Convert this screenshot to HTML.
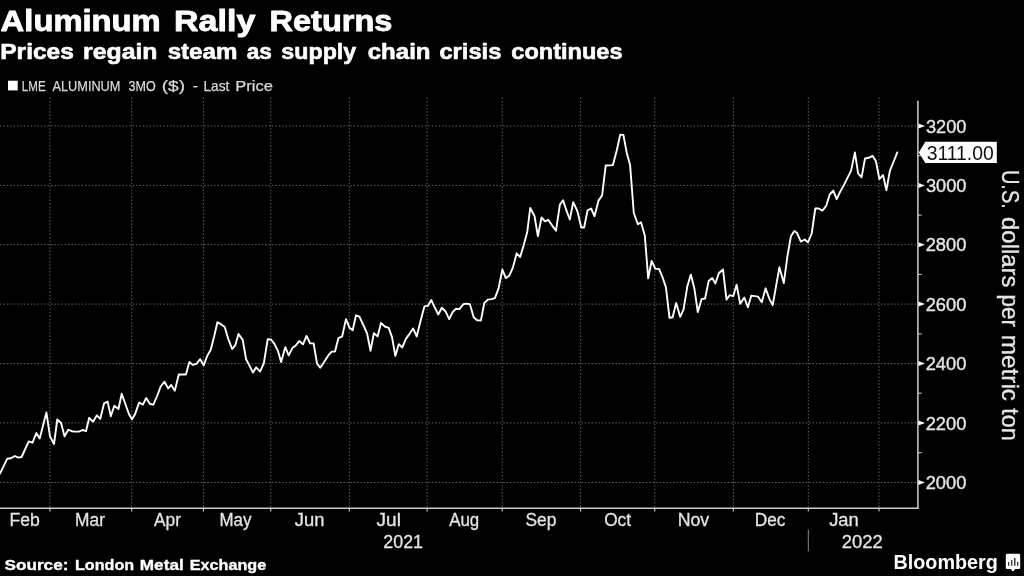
<!DOCTYPE html>
<html><head><meta charset="utf-8"><title>Aluminum Rally Returns</title>
<style>
html,body{margin:0;padding:0;background:#000;}
body{width:1024px;height:576px;overflow:hidden;font-family:"Liberation Sans",sans-serif;}
svg{display:block;font-family:"Liberation Sans",sans-serif;}
</style></head><body>
<svg width="1024" height="576" viewBox="0 0 1024 576" style="will-change:transform;opacity:0.9999">
<rect x="0" y="0" width="1024" height="576" fill="#000"/>

<g stroke="#626262" stroke-width="1" stroke-dasharray="1.5 1.9" fill="none">
<line x1="50" y1="97.6" x2="50" y2="507.5"/>
<line x1="131.7" y1="97.6" x2="131.7" y2="507.5"/>
<line x1="203.4" y1="97.6" x2="203.4" y2="507.5"/>
<line x1="270.8" y1="97.6" x2="270.8" y2="507.5"/>
<line x1="349.3" y1="97.6" x2="349.3" y2="507.5"/>
<line x1="427.1" y1="97.6" x2="427.1" y2="507.5"/>
<line x1="502.2" y1="97.6" x2="502.2" y2="507.5"/>
<line x1="580.6" y1="97.6" x2="580.6" y2="507.5"/>
<line x1="654.8" y1="97.6" x2="654.8" y2="507.5"/>
<line x1="733.3" y1="97.6" x2="733.3" y2="507.5"/>
<line x1="808.3" y1="97.6" x2="808.3" y2="507.5"/>
<line x1="879" y1="97.6" x2="879" y2="507.5"/>
<line x1="0" y1="125.9" x2="917" y2="125.9"/>
<line x1="0" y1="185.4" x2="917" y2="185.4"/>
<line x1="0" y1="244.7" x2="917" y2="244.7"/>
<line x1="0" y1="304.1" x2="917" y2="304.1"/>
<line x1="0" y1="363.6" x2="917" y2="363.6"/>
<line x1="0" y1="422.9" x2="917" y2="422.9"/>
<line x1="0" y1="482.5" x2="917" y2="482.5"/>
</g>
<g stroke="#d0d0d0" stroke-width="1.5" fill="none">
<line x1="917.9" y1="100.8" x2="917.9" y2="509"/>
<line x1="0" y1="508.3" x2="918.6" y2="508.3"/>
</g>
<g stroke="#d0d0d0" stroke-width="1.1">
<line x1="50" y1="508" x2="50" y2="511.6"/>
<line x1="131.7" y1="508" x2="131.7" y2="511.6"/>
<line x1="203.4" y1="508" x2="203.4" y2="511.6"/>
<line x1="270.8" y1="508" x2="270.8" y2="511.6"/>
<line x1="349.3" y1="508" x2="349.3" y2="511.6"/>
<line x1="427.1" y1="508" x2="427.1" y2="511.6"/>
<line x1="502.2" y1="508" x2="502.2" y2="511.6"/>
<line x1="580.6" y1="508" x2="580.6" y2="511.6"/>
<line x1="654.8" y1="508" x2="654.8" y2="511.6"/>
<line x1="733.3" y1="508" x2="733.3" y2="511.6"/>
<line x1="808.3" y1="508" x2="808.3" y2="511.6"/>
<line x1="879" y1="508" x2="879" y2="511.6"/>
</g>
<g fill="#ffffff">
<path d="M918.4 123.4 L925 125.9 L918.4 128.4 Z"/>
<path d="M918.4 182.9 L925 185.4 L918.4 187.9 Z"/>
<path d="M918.4 242.2 L925 244.7 L918.4 247.2 Z"/>
<path d="M918.4 301.6 L925 304.1 L918.4 306.6 Z"/>
<path d="M918.4 361.1 L925 363.6 L918.4 366.1 Z"/>
<path d="M918.4 420.4 L925 422.9 L918.4 425.4 Z"/>
<path d="M918.4 480.0 L925 482.5 L918.4 485.0 Z"/>
</g>
<g stroke="#d0d0d0" stroke-width="1">
<line x1="918" y1="155.7" x2="921.7" y2="155.7"/>
<line x1="918" y1="215.1" x2="921.7" y2="215.1"/>
<line x1="918" y1="274.4" x2="921.7" y2="274.4"/>
<line x1="918" y1="333.9" x2="921.7" y2="333.9"/>
<line x1="918" y1="393.2" x2="921.7" y2="393.2"/>
<line x1="918" y1="452.7" x2="921.7" y2="452.7"/>
</g>
<text x="925.92" y="132.6" font-size="19.2" fill="#e6e6e6" textLength="40.51" lengthAdjust="spacingAndGlyphs" stroke="#e6e6e6" stroke-width="0.4" stroke-linejoin="round">3200</text>
<text x="925.92" y="192.1" font-size="19.2" fill="#e6e6e6" textLength="40.51" lengthAdjust="spacingAndGlyphs" stroke="#e6e6e6" stroke-width="0.4" stroke-linejoin="round">3000</text>
<text x="925.68" y="251.4" font-size="19.2" fill="#e6e6e6" textLength="40.74" lengthAdjust="spacingAndGlyphs" stroke="#e6e6e6" stroke-width="0.4" stroke-linejoin="round">2800</text>
<text x="925.68" y="310.8" font-size="19.2" fill="#e6e6e6" textLength="40.74" lengthAdjust="spacingAndGlyphs" stroke="#e6e6e6" stroke-width="0.4" stroke-linejoin="round">2600</text>
<text x="925.68" y="370.3" font-size="19.2" fill="#e6e6e6" textLength="40.74" lengthAdjust="spacingAndGlyphs" stroke="#e6e6e6" stroke-width="0.4" stroke-linejoin="round">2400</text>
<text x="925.68" y="429.6" font-size="19.2" fill="#e6e6e6" textLength="40.74" lengthAdjust="spacingAndGlyphs" stroke="#e6e6e6" stroke-width="0.4" stroke-linejoin="round">2200</text>
<text x="925.68" y="489.2" font-size="19.2" fill="#e6e6e6" textLength="40.74" lengthAdjust="spacingAndGlyphs" stroke="#e6e6e6" stroke-width="0.4" stroke-linejoin="round">2000</text>
<text x="9.5" y="526.2" font-size="18.3" fill="#e6e6e6" textLength="30.37" lengthAdjust="spacingAndGlyphs" stroke="#e6e6e6" stroke-width="0.3" stroke-linejoin="round">Feb</text>
<text x="75.12" y="526.2" font-size="18.3" fill="#e6e6e6" textLength="29.89" lengthAdjust="spacingAndGlyphs" stroke="#e6e6e6" stroke-width="0.3" stroke-linejoin="round">Mar</text>
<text x="154.01" y="526.2" font-size="18.3" fill="#e6e6e6" textLength="26.92" lengthAdjust="spacingAndGlyphs" stroke="#e6e6e6" stroke-width="0.3" stroke-linejoin="round">Apr</text>
<text x="219.56" y="526.2" font-size="18.3" fill="#e6e6e6" textLength="31.92" lengthAdjust="spacingAndGlyphs" stroke="#e6e6e6" stroke-width="0.3" stroke-linejoin="round">May</text>
<text x="294.77" y="526.2" font-size="18.3" fill="#e6e6e6" textLength="29.67" lengthAdjust="spacingAndGlyphs" stroke="#e6e6e6" stroke-width="0.3" stroke-linejoin="round">Jun</text>
<text x="376.56" y="526.2" font-size="18.3" fill="#e6e6e6" textLength="24.39" lengthAdjust="spacingAndGlyphs" stroke="#e6e6e6" stroke-width="0.3" stroke-linejoin="round">Jul</text>
<text x="449.21" y="526.2" font-size="18.3" fill="#e6e6e6" textLength="30.03" lengthAdjust="spacingAndGlyphs" stroke="#e6e6e6" stroke-width="0.3" stroke-linejoin="round">Aug</text>
<text x="525.47" y="526.2" font-size="18.3" fill="#e6e6e6" textLength="30.91" lengthAdjust="spacingAndGlyphs" stroke="#e6e6e6" stroke-width="0.3" stroke-linejoin="round">Sep</text>
<text x="604.13" y="526.2" font-size="18.3" fill="#e6e6e6" textLength="26.86" lengthAdjust="spacingAndGlyphs" stroke="#e6e6e6" stroke-width="0.3" stroke-linejoin="round">Oct</text>
<text x="677.69" y="526.2" font-size="18.3" fill="#e6e6e6" textLength="31.52" lengthAdjust="spacingAndGlyphs" stroke="#e6e6e6" stroke-width="0.3" stroke-linejoin="round">Nov</text>
<text x="754.73" y="526.2" font-size="18.3" fill="#e6e6e6" textLength="30.61" lengthAdjust="spacingAndGlyphs" stroke="#e6e6e6" stroke-width="0.3" stroke-linejoin="round">Dec</text>
<text x="829.17" y="526.2" font-size="18.3" fill="#e6e6e6" textLength="29.67" lengthAdjust="spacingAndGlyphs" stroke="#e6e6e6" stroke-width="0.3" stroke-linejoin="round">Jan</text>
<text x="383.36" y="547.7" font-size="18.6" fill="#e6e6e6" textLength="39.68" lengthAdjust="spacingAndGlyphs" stroke="#e6e6e6" stroke-width="0.3" stroke-linejoin="round">2021</text>
<text x="841.73" y="547.7" font-size="18.6" fill="#e6e6e6" textLength="41.09" lengthAdjust="spacingAndGlyphs" stroke="#e6e6e6" stroke-width="0.3" stroke-linejoin="round">2022</text>
<line x1="808.3" y1="529.5" x2="808.3" y2="551.4" stroke="#8c8c8c" stroke-width="1"/>
<polyline points="0,473.6 7.3,458.7 10.9,458.3 14.9,456 18.2,457.6 21.6,457 28.7,441.5 32.5,442.7 36.3,433.1 39.7,438.5 46.4,412.5 50,436.4 54,444 57.3,419.5 61.1,423 64.6,436.4 68.2,429.7 71.8,431.2 75.5,431.6 78.9,431.6 82.5,430 86,431.2 89.2,417.8 93,421.7 96.9,415.3 100.3,418.8 104.1,403.3 107.6,401.6 110.8,416.3 114.3,405.8 118.5,409 121.7,393.8 125.2,403.5 129,414.2 132,419.3 134.9,414.6 139.1,402.5 142.9,404.6 146.2,398 150,404 153.4,404.6 157.3,395.5 160.7,386.5 164.5,381.7 168.1,388.4 171.2,385 174.8,390.7 178.8,374.5 185.9,374.5 189.4,362 193,364.9 196.4,363.9 200.2,359.2 203.7,365.3 207.3,355.7 210.8,349.6 214.2,336.2 217.4,322.3 220.9,324.2 224.7,327 228.3,339.1 232.2,349 235.2,345.4 238.5,334 242.7,339.9 246.1,359.2 249.6,365.9 253,372.6 256.2,367.3 260.1,371.6 263.9,363 267.7,339.2 271,339.5 274.4,343.9 277.8,350.6 281.1,362.1 285.3,347.2 288.7,355.4 292.5,347.8 295.4,345.9 299.2,341.1 303,344.3 306.5,335.9 310.1,343.4 313.6,343.4 317,363.4 320.2,367.8 324.1,362.1 328.3,355.4 331.7,351.6 335,351.6 338.4,338.2 342.2,336.3 346,319.1 349.5,327.7 352.7,330.2 356,315.3 359.4,316.6 363.5,325.3 367.1,333.5 370.5,350.8 373.9,333.2 377.6,336.4 381,323 384.8,326.5 388.7,327.8 392.1,337.4 395.3,355.9 398.8,344.1 402.2,347.5 405.9,338.9 409.7,333.6 413.1,328.4 416.7,336.4 420.6,320.8 424.4,306.4 427.8,305.9 431.3,300.1 434.5,306.8 438.3,314.5 441.8,307.8 445.4,311.2 449.2,319.2 452.7,312 456.1,308.7 459.4,309.1 463.2,304.3 466.4,303.6 469.9,304.3 473.7,317.3 477.1,320.2 480.9,320.6 484.2,303.2 487.8,299.6 491.5,299.1 494.9,298.2 498.5,288.6 502.4,269.5 505.8,278.1 509.2,275.8 512.9,267.6 516.7,253.3 520.1,257.1 523.6,245.6 527.2,232.3 530.2,208 534.5,216 537.9,236.1 541.5,217.5 545,221.4 548.2,219.8 552.2,225.6 556,230.7 559.9,204.6 563.1,200.2 566.5,210.7 569.8,219.5 573.2,202.1 577.4,211.2 581.3,227.5 584.1,227.5 587.6,210.3 591.1,208.5 594.5,216.2 598.5,200.6 602.1,195.4 605.7,165.5 612.9,165.1 616.7,150.8 620.2,134.6 623.4,134.9 626.7,152.7 630.1,165.1 633.8,213 637.9,224.3 641,222.3 644.8,235.4 648.2,278.4 651.6,260.9 655.4,268.9 659,268.9 662.5,277.1 665.9,287.2 669.5,317.8 672.6,317.2 676.2,302.9 680.2,316.8 683.5,309.6 687.3,286.6 690.8,274.6 694.4,288.6 697.8,312.1 701.6,299.1 705.1,298.5 708.7,280.9 712.2,278 715.4,283.4 718.8,273.3 723,269.5 726.5,299.6 729.7,295.2 733.2,296.2 736.6,284.7 740.2,303.8 744.3,297.5 747.9,307.2 751.3,295.6 758,296.6 761.8,302.2 765.6,288.3 769.5,299.3 772.7,305.1 779.4,267.3 783.8,283.1 787.4,256.4 790.9,236.3 794.3,231 797,232.9 800.8,241.6 804.8,239.5 808,242.4 811.7,233.5 815.3,208.5 818.6,208.5 822.4,210.6 826.2,205.8 829.7,194.5 833.3,190.6 836.7,199.2 840.2,191.6 844,184.9 847.6,177.6 851.1,170.6 854.9,152.4 858.1,173.4 861.6,177.3 865,158.5 868.7,157.8 872.5,155.9 875.9,161 879.4,179.2 883,175 886.4,190.2 889.9,170.6 893.5,162 897.3,152.4" fill="none" stroke="#fff" stroke-width="1.9" stroke-linejoin="round" stroke-linecap="round"/>
<path d="M918.8 152.4 L925.3 141.7 L996.8 141.7 L996.8 162.9 L925.3 162.9 Z" fill="#fff"/>
<text x="926.67" y="159.5" font-size="19.4" fill="#111" textLength="67.08" lengthAdjust="spacingAndGlyphs">3111.00</text>
<text transform="translate(1002.1 171.5) rotate(90)" x="-1.55" y="0" font-size="24.5" fill="#e6e6e6" stroke="#e6e6e6" stroke-width="0.35" textLength="38.84" lengthAdjust="spacingAndGlyphs">U.S.</text>
<text transform="translate(1002.1 218.1) rotate(90)" x="-1.01" y="0" font-size="24.5" fill="#e6e6e6" stroke="#e6e6e6" stroke-width="0.35" textLength="70.27" lengthAdjust="spacingAndGlyphs">dollars</text>
<text transform="translate(1002.1 296) rotate(90)" x="-1.46" y="0" font-size="24.5" fill="#e6e6e6" stroke="#e6e6e6" stroke-width="0.35" textLength="32.4" lengthAdjust="spacingAndGlyphs">per</text>
<text transform="translate(1002.1 336.5) rotate(90)" x="-1.64" y="0" font-size="24.5" fill="#e6e6e6" stroke="#e6e6e6" stroke-width="0.35" textLength="66.1" lengthAdjust="spacingAndGlyphs">metric</text>
<text transform="translate(1002.1 408.6) rotate(90)" x="-0.35" y="0" font-size="24.5" fill="#e6e6e6" stroke="#e6e6e6" stroke-width="0.35" textLength="32.41" lengthAdjust="spacingAndGlyphs">ton</text>
<text x="0.63" y="31.3" font-size="30.3" font-weight="bold" fill="#fff" textLength="160.13" lengthAdjust="spacingAndGlyphs" stroke="#fff" stroke-width="0.9" stroke-linejoin="round">Aluminum</text>
<text x="174.05" y="31.3" font-size="30.3" font-weight="bold" fill="#fff" textLength="81.27" lengthAdjust="spacingAndGlyphs" stroke="#fff" stroke-width="0.9" stroke-linejoin="round">Rally</text>
<text x="269.56" y="31.3" font-size="30.3" font-weight="bold" fill="#fff" textLength="122.82" lengthAdjust="spacingAndGlyphs" stroke="#fff" stroke-width="0.9" stroke-linejoin="round">Returns</text>
<text x="0.24" y="58.7" font-size="21.3" font-weight="bold" fill="#fff" textLength="73.64" lengthAdjust="spacingAndGlyphs" stroke="#fff" stroke-width="0.6" stroke-linejoin="round">Prices</text>
<text x="83.09" y="58.7" font-size="21.3" font-weight="bold" fill="#fff" textLength="74.43" lengthAdjust="spacingAndGlyphs" stroke="#fff" stroke-width="0.6" stroke-linejoin="round">regain</text>
<text x="167.66" y="58.7" font-size="21.3" font-weight="bold" fill="#fff" textLength="69.71" lengthAdjust="spacingAndGlyphs" stroke="#fff" stroke-width="0.6" stroke-linejoin="round">steam</text>
<text x="246.82" y="58.7" font-size="21.3" font-weight="bold" fill="#fff" textLength="25.13" lengthAdjust="spacingAndGlyphs" stroke="#fff" stroke-width="0.6" stroke-linejoin="round">as</text>
<text x="281.39" y="58.7" font-size="21.3" font-weight="bold" fill="#fff" textLength="74.84" lengthAdjust="spacingAndGlyphs" stroke="#fff" stroke-width="0.6" stroke-linejoin="round">supply</text>
<text x="367.74" y="58.7" font-size="21.3" font-weight="bold" fill="#fff" textLength="62.75" lengthAdjust="spacingAndGlyphs" stroke="#fff" stroke-width="0.6" stroke-linejoin="round">chain</text>
<text x="439.45" y="58.7" font-size="21.3" font-weight="bold" fill="#fff" textLength="61.92" lengthAdjust="spacingAndGlyphs" stroke="#fff" stroke-width="0.6" stroke-linejoin="round">crisis</text>
<text x="511.36" y="58.7" font-size="21.3" font-weight="bold" fill="#fff" textLength="111.19" lengthAdjust="spacingAndGlyphs" stroke="#fff" stroke-width="0.6" stroke-linejoin="round">continues</text>
<rect x="8" y="80.7" width="9.7" height="9.7" fill="#fff"/>
<text x="21.87" y="91.1" font-size="14.6" fill="#dadada" textLength="23.78" lengthAdjust="spacingAndGlyphs" stroke="#dadada" stroke-width="0.25" stroke-linejoin="round">LME</text>
<text x="52.49" y="91.1" font-size="14.6" fill="#dadada" textLength="67.95" lengthAdjust="spacingAndGlyphs" stroke="#dadada" stroke-width="0.25" stroke-linejoin="round">ALUMINUM</text>
<text x="128.56" y="91.1" font-size="14.6" fill="#dadada" textLength="27.11" lengthAdjust="spacingAndGlyphs" stroke="#dadada" stroke-width="0.25" stroke-linejoin="round">3MO</text>
<text x="161.73" y="91.1" font-size="14.6" fill="#dadada" textLength="23.39" lengthAdjust="spacingAndGlyphs" stroke="#dadada" stroke-width="0.25" stroke-linejoin="round">($)</text>
<text x="192.84" y="91.1" font-size="14.6" fill="#dadada" textLength="5.1" lengthAdjust="spacingAndGlyphs" stroke="#dadada" stroke-width="0.25" stroke-linejoin="round">-</text>
<text x="203.5" y="91.1" font-size="14.6" fill="#dadada" textLength="25.89" lengthAdjust="spacingAndGlyphs" stroke="#dadada" stroke-width="0.25" stroke-linejoin="round">Last</text>
<text x="235.26" y="91.1" font-size="14.6" fill="#dadada" textLength="37.73" lengthAdjust="spacingAndGlyphs" stroke="#dadada" stroke-width="0.25" stroke-linejoin="round">Price</text>
<text x="4.46" y="569.6" font-size="15.3" font-weight="bold" fill="#fff" textLength="64.01" lengthAdjust="spacingAndGlyphs" stroke="#fff" stroke-width="0.35" stroke-linejoin="round">Source:</text>
<text x="74.99" y="569.6" font-size="15.3" font-weight="bold" fill="#fff" textLength="59.11" lengthAdjust="spacingAndGlyphs" stroke="#fff" stroke-width="0.35" stroke-linejoin="round">London</text>
<text x="139.81" y="569.6" font-size="15.3" font-weight="bold" fill="#fff" textLength="43.93" lengthAdjust="spacingAndGlyphs" stroke="#fff" stroke-width="0.35" stroke-linejoin="round">Metal</text>
<text x="189.68" y="569.6" font-size="15.3" font-weight="bold" fill="#fff" textLength="76.5" lengthAdjust="spacingAndGlyphs" stroke="#fff" stroke-width="0.35" stroke-linejoin="round">Exchange</text>
<text x="893.47" y="569" font-size="20.8" font-weight="bold" fill="#fff" textLength="104.33" lengthAdjust="spacingAndGlyphs">Bloomberg</text>
<path d="M1007.2 553.7 H1018.8 Q1020.2 553.7 1020.2 555.1 V567.7 Q1020.2 569.1 1018.8 569.1 H1015.2 L1013 571.8 L1010.8 569.1 H1007.2 Q1005.8 569.1 1005.8 567.7 V555.1 Q1005.8 553.7 1007.2 553.7 Z" fill="#fff"/>
<g fill="#333">
<rect x="1008" y="562.1" width="1.3" height="3.7"/>
<rect x="1011.1" y="560" width="1.3" height="5.8"/>
<rect x="1014.1" y="558" width="1.4" height="7.8"/>
<rect x="1017" y="561.8" width="1.3" height="4"/>
</g>
</svg></body></html>
